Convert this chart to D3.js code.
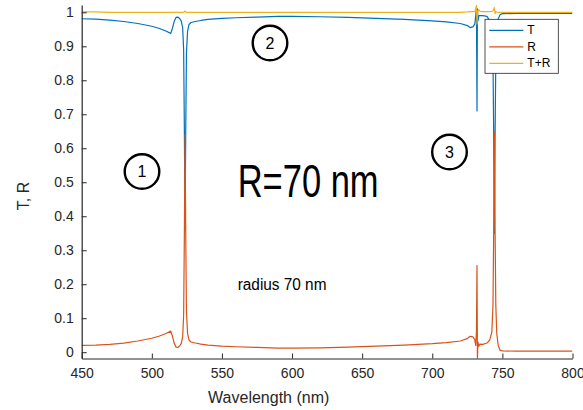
<!DOCTYPE html>
<html>
<head>
<meta charset="utf-8">
<script src="https://cdn.jsdelivr.net/npm/d3@7"></script>
<style>
  html, body { margin: 0; padding: 0; background: #fff; }
  svg { display: block; font-family: "Liberation Sans", Arial, Helvetica, sans-serif; }
</style>
</head>
<body>
<svg id="chart" width="583" height="410"></svg>
<script>
// Spectral samples (nm) shared by all three curves
const wavelength = [
  450, 460, 470, 480, 490, 500, 505, 510, 513.5, 514.5,
  516, 517.3, 518.5, 520, 521, 522, 522.7, 523.2, 523.7, 524.2,
  524.7, 525.5, 526.5, 528, 531, 535, 540, 550, 560, 575,
  590, 600, 620, 640, 660, 680, 700, 710, 720, 725,
  727, 729, 730.3, 731, 731.5, 731.9, 732.2, 732.6, 733.2, 734,
  736, 739, 741, 742.5, 743.3, 743.8, 744.3, 744.8, 745.3, 746,
  747, 748.3, 750, 760, 780, 800
];

// Transmittance
const transmission = [
  0.981, 0.980, 0.977, 0.973, 0.967, 0.959, 0.953, 0.945, 0.938, 0.950,
  0.974, 0.985, 0.986, 0.981, 0.974, 0.955, 0.890, 0.660, 0.360, 0.660,
  0.880, 0.945, 0.964, 0.970, 0.973, 0.976, 0.979, 0.982, 0.984, 0.986,
  0.988, 0.988, 0.987, 0.985, 0.982, 0.979, 0.975, 0.972, 0.967, 0.961,
  0.955, 0.957, 0.965, 0.990, 1.015, 0.710, 1.010, 0.975, 0.990, 0.990,
  0.990, 0.988, 0.975, 0.945, 0.860, 0.640, 0.350, 0.640, 0.860, 0.945,
  0.980, 0.993, 0.996, 0.997, 0.997, 0.997
];

// Reflectance
const reflection = [
  0.020, 0.021, 0.023, 0.027, 0.033, 0.041, 0.047, 0.055, 0.062, 0.050,
  0.026, 0.015, 0.014, 0.019, 0.026, 0.045, 0.110, 0.340, 0.640, 0.340,
  0.120, 0.055, 0.036, 0.030, 0.027, 0.024, 0.021, 0.018, 0.016, 0.014,
  0.012, 0.012, 0.013, 0.015, 0.018, 0.021, 0.025, 0.028, 0.033, 0.040,
  0.047, 0.045, 0.037, 0.020, 0.060, 0.255, -0.020, 0.030, 0.018, 0.024,
  0.023, 0.027, 0.036, 0.060, 0.140, 0.360, 0.650, 0.360, 0.140, 0.055,
  0.020, 0.006, 0.004, 0.003, 0.003, 0.003
];

// Sum T+R
const total = [
  1.001, 1.001, 1.000, 1.000, 1.000, 1.000, 1.000, 1.000, 1.000, 1.000,
  1.000, 1.001, 1.000, 1.000, 1.000, 1.000, 1.000, 1.001, 1.004, 1.001,
  1.000, 1.000, 1.000, 1.000, 1.000, 1.000, 1.000, 1.000, 1.000, 1.000,
  1.000, 1.000, 1.000, 1.000, 1.000, 1.000, 1.000, 1.000, 1.000, 1.001,
  1.002, 1.002, 1.003, 1.010, 1.020, 0.965, 0.990, 1.005, 1.008, 1.003,
  1.002, 1.002, 1.002, 1.003, 1.004, 1.008, 1.014, 0.996, 1.002, 1.001,
  1.000, 1.000, 1.000, 1.000, 1.000, 1.000
];

const xTicks = [450, 500, 550, 600, 650, 700, 750, 800];
const yTicks = [0, 0.1, 0.2, 0.3, 0.4, 0.5, 0.6, 0.7, 0.8, 0.9, 1];
const yTickLabels = ["0", "0.1", "0.2", "0.3", "0.4", "0.5", "0.6", "0.7", "0.8", "0.9", "1"];

const seriesNames = ["T", "R", "T+R"];
const seriesColors = ["#0072BD", "#D95319", "#EDB120"];
const seriesValues = [transmission, reflection, total];

// Circled region markers and their labels
const markerLabels = ["1", "2", "3"];
const markerPos = [[142, 171.5], [270, 43], [449.5, 152]];

const svg = d3.select("#chart");
const axisColor = "#262626";

const x = d3.scaleLinear().domain([450, 800]).range([81.7, 572.5]);
const y = d3.scaleLinear().domain([-0.0185, 1.0215]).range([358.5, 5]);

svg.append("defs").append("clipPath").attr("id", "plotClip")
  .append("rect")
  .attr("x", x.range()[0]).attr("y", y.range()[1])
  .attr("width", x.range()[1] - x.range()[0])
  .attr("height", y.range()[0] - y.range()[1]);

// Curves
const line = d3.line()
  .x((d, i) => x(wavelength[i]))
  .y(d => y(d));

const plot = svg.append("g").attr("clip-path", "url(#plotClip)");
seriesValues.forEach((vals, k) => {
  plot.append("path")
    .datum(vals)
    .attr("d", line)
    .attr("fill", "none")
    .attr("stroke", seriesColors[k])
    .attr("stroke-width", 1.2)
    .attr("stroke-linejoin", "round");
});

// Axes (ticks pointing inward)
const xAxis = d3.axisBottom(x).tickValues(xTicks).tickSizeInner(-5).tickSizeOuter(0).tickPadding(10);
const yAxis = d3.axisLeft(y).tickValues(yTicks).tickSizeInner(-5).tickSizeOuter(0).tickPadding(8)
  .tickFormat((d, i) => yTickLabels[i]);

const gx = svg.append("g").attr("transform", `translate(0,${y.range()[0]})`).call(xAxis);
const gy = svg.append("g").attr("transform", `translate(${x.range()[0]},0)`).call(yAxis);

[gx, gy].forEach(g => {
  g.select(".domain").attr("stroke", axisColor).attr("stroke-width", 1.2);
  g.selectAll(".tick line").attr("stroke", axisColor).attr("stroke-width", 1);
  g.selectAll(".tick text").attr("fill", axisColor).attr("font-size", 14)
    .attr("font-family", "Liberation Sans, Arial, sans-serif");
});

// Axis titles
svg.append("text")
  .attr("x", 268.7).attr("y", 402.5)
  .attr("text-anchor", "middle")
  .attr("font-size", 16).attr("fill", axisColor)
  .text("Wavelength (nm)");

svg.append("text")
  .attr("transform", "translate(29,196) rotate(-90)")
  .attr("text-anchor", "middle")
  .attr("font-size", 16).attr("fill", axisColor)
  .text("T, R");

// Annotations
svg.append("text")
  .attr("transform", "translate(237.7,196.7) scale(0.75,1)")
  .attr("font-size", 46).attr("fill", "#000")
  .text("R=70 nm");

svg.append("text")
  .attr("transform", "translate(237.7,290) scale(0.96,1)")
  .attr("font-size", 16).attr("fill", "#000")
  .text("radius 70 nm");

const markers = svg.append("g");
markerLabels.forEach((lab, i) => {
  const [cx, cy] = markerPos[i];
  markers.append("circle")
    .attr("cx", cx).attr("cy", cy).attr("r", 17.3)
    .attr("fill", "none").attr("stroke", "#000").attr("stroke-width", 2.4);
  markers.append("text")
    .attr("x", cx).attr("y", cy + 5.8)
    .attr("text-anchor", "middle")
    .attr("font-size", 16).attr("fill", "#000")
    .text(lab);
});

// Legend
const legend = svg.append("g").attr("transform", "translate(485,19.3)");
legend.append("rect")
  .attr("width", 73.3).attr("height", 54)
  .attr("fill", "#fff").attr("stroke", axisColor).attr("stroke-width", 0.8);
seriesNames.forEach((name, i) => {
  const ly = 11 + i * 16.5;
  legend.append("line")
    .attr("x1", 4.3).attr("x2", 38.3).attr("y1", ly).attr("y2", ly)
    .attr("stroke", seriesColors[i]).attr("stroke-width", 1.2);
  legend.append("text")
    .attr("x", 42.3).attr("y", ly + 4.2)
    .attr("font-size", 12).attr("fill", "#000")
    .text(name);
});
</script>
</body>
</html>
